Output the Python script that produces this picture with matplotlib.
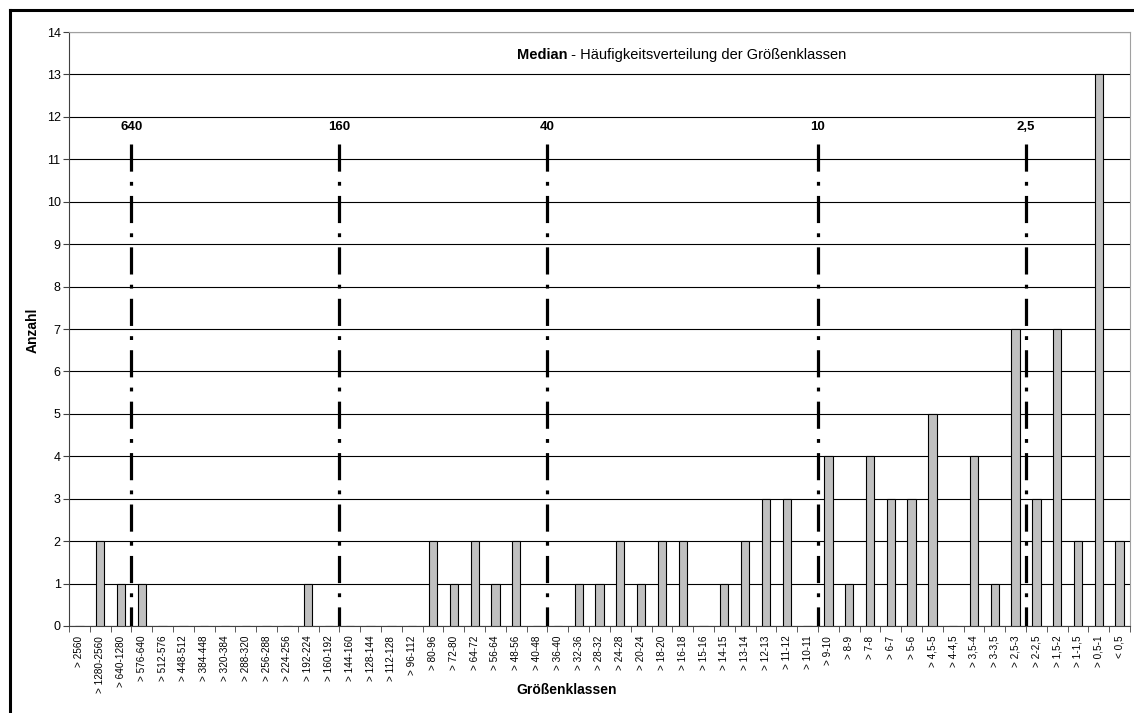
import numpy as np
import matplotlib.pyplot as plt
from matplotlib.lines import Line2D

plt.rcParams['font.family'] = ['Liberation Sans', 'DejaVu Sans']

klassen = ['> 2560', '> 1280-2560', '> 640-1280', '> 576-640', '> 512-576', '> 448-512',
           '> 384-448', '> 320-384', '> 288-320', '> 256-288', '> 224-256', '> 192-224',
           '> 160-192', '> 144-160', '> 128-144', '> 112-128', '> 96-112', '> 80-96',
           '> 72-80', '> 64-72', '> 56-64', '> 48-56', '> 40-48', '> 36-40', '> 32-36',
           '> 28-32', '> 24-28', '> 20-24', '> 18-20', '> 16-18', '> 15-16', '> 14-15',
           '> 13-14', '> 12-13', '> 11-12', '> 10-11', '> 9-10', '> 8-9', '> 7-8',
           '> 6-7', '> 5-6', '> 4,5-5', '> 4-4,5', '> 3,5-4', '> 3-3,5', '> 2,5-3',
           '> 2-2,5', '> 1,5-2', '> 1-1,5', '> 0,5-1', '< 0,5']
anzahl = [0, 2, 1, 1, 0, 0, 0, 0, 0, 0, 0, 1,
          0, 0, 0, 0, 0, 2, 1, 2, 1, 2, 0, 0, 1,
          1, 2, 1, 2, 2, 0, 1, 2, 3, 3, 0, 4, 1, 4,
          3, 3, 5, 0, 4, 1, 7, 3, 7, 2, 13, 2]

# Grenzen (Anzahl Klassen links der Linie) und Beschriftung
grenz_pos = [3, 13, 23, 36, 46]
grenz_txt = ['640', '160', '40', '10', '2,5']

fig = plt.figure(figsize=(11.34, 7.13), dpi=100)
ax = fig.add_axes([69/1134, 1-626/713, (1130-69)/1134, (626-32)/713])

x = np.arange(len(klassen))
ax.bar(x, anzahl, width=0.4, color='#c0c0c0', edgecolor='black', linewidth=0.8, zorder=3)

for p, t in zip(grenz_pos, grenz_txt):
    # von oben nach unten zeichnen, damit das Muster oben mit einem Strich beginnt
    ax.plot([p - 0.5, p - 0.5], [11.35, 0], color='black', linewidth=2.3,
            linestyle=(0, (8.5, 3.2, 1.2, 3.2)), zorder=4)
    ax.text(p - 0.5, 11.75, t, ha='center', va='center', fontsize=9.5, fontweight='bold')

ax.set_xlim(-0.5, len(klassen) - 0.5)
ax.set_ylim(0, 14)
ax.set_yticks(range(15))
ax.yaxis.grid(True, color='black', linewidth=0.8, zorder=0)
ax.set_axisbelow(True)

ax.set_xticks(x)
ax.set_xticklabels(klassen, rotation=90, fontsize=7.2)
ax.set_xticks(np.arange(-0.5, len(klassen)), minor=True)
ax.tick_params(axis='x', which='major', length=0, pad=7)
ax.tick_params(axis='x', which='minor', length=4, direction='out', color='#404040')
ax.tick_params(axis='y', length=4, direction='out', labelsize=9, pad=2, color='#404040')

for s in ['top', 'right']:
    ax.spines[s].set_color('#a0a0a0')
for s in ['left', 'bottom']:
    ax.spines[s].set_color('#404040')

fig.text(33/1134, 1-330/713, 'Anzahl', rotation=90, ha='center', va='center',
         fontsize=10, fontweight='bold')
fig.text(0.5, 1-690/713, 'Größenklassen', ha='center', va='center', fontsize=10, fontweight='bold')

fig.text(0.5, 1-55/713, 'Median', ha='right', va='center', fontsize=10.5, fontweight='bold')
fig.text(0.5, 1-55/713, ' - Häufigkeitsverteilung der Größenklassen', ha='left', va='center',
         fontsize=10.5)

# äußerer Rahmen
fig.add_artist(Line2D([10/1134, 1], [1-10/713, 1-10/713], color='black', linewidth=2.2))
fig.add_artist(Line2D([10/1134, 10/1134], [0, 1-10/713], color='black', linewidth=2.2))

fig.savefig('out.png', dpi=100)
